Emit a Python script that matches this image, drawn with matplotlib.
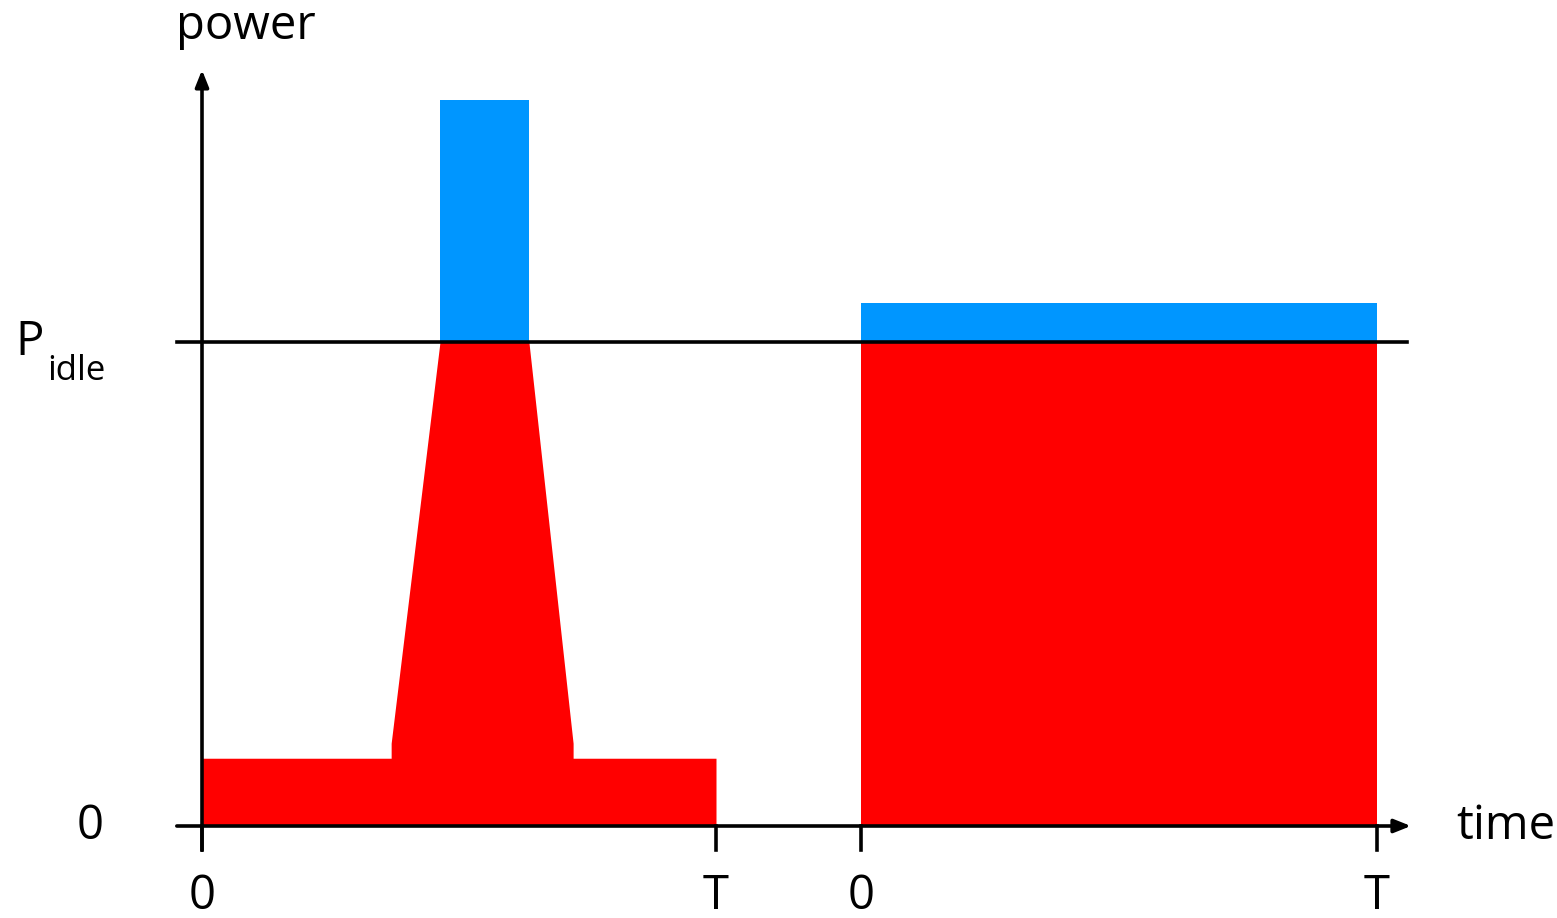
import matplotlib
matplotlib.use('Agg')
from matplotlib import pyplot as plt

# time in units of T, power in units of P_idle
offset = 1.282  # start of the second period

# left: idle baseline with a short burst
burst_t = [0.0, 0.368, 0.368, 0.463, 0.636, 0.722, 0.722, 1.0]
burst_p = [0.14, 0.14, 0.171, 1.0, 1.0, 0.171, 0.14, 0.14]
burst_extra = [0.463, 0.636]
burst_top = 1.5

# right: constant load over the whole period
steady_t = [0.0, 1.004]
steady_p = [1.0, 1.0]
steady_top = 1.08

tick_pos = [0.0, 1.0, offset, offset + 1.004]
tick_labels = ['0', 'T', '0', 'T']

red = '#ff0000'
blue = '#0096ff'
plt.rcParams['font.family'] = ['Open Sans', 'DejaVu Sans']

fig = plt.figure(figsize=(15.57, 9.18), dpi=100)
ax = fig.add_axes([0, 0, 1, 1])
ax.set_xlim(-202 / 514, (1557 - 202) / 514)
ax.set_ylim(-(918 - 826) / 484, 826 / 484)
ax.axis('off')

# the burst
ax.fill_between(burst_t, 0, burst_p, color=red, lw=0)
ax.fill_between(burst_extra, 1.0, burst_top, color=blue, lw=0)

# the steady load
st = [t + offset for t in steady_t]
ax.fill_between(st, 0, steady_p, color=red, lw=0)
ax.fill_between(st, 1.0, steady_top, color=blue, lw=0)

# axes lines
x0, x1 = -0.049, 2.352
lw = 2.6
ax.plot([x0, 2.344], [1.0, 1.0], color='black', lw=lw)
ax.annotate('', xy=(x1, 0), xytext=(x0, 0),
            arrowprops=dict(arrowstyle='-|>,head_length=1.0,head_width=0.4',
                            color='black', lw=lw, shrinkA=0, shrinkB=0))
ax.annotate('', xy=(0, 1.562), xytext=(0, -0.05),
            arrowprops=dict(arrowstyle='-|>,head_length=1.0,head_width=0.4',
                            color='black', lw=lw, shrinkA=0, shrinkB=0))

# ticks
for t, lab in zip(tick_pos, tick_labels):
    ax.plot([t, t], [0, -0.05], color='black', lw=lw)
    ax.text(t, -0.145, lab, ha='center', va='center', fontsize=34)

ax.text(-0.218, 0.0, '0', ha='center', va='center', fontsize=34)
ax.text(-0.335, 1.0, 'P', ha='center', va='center', fontsize=34)
ax.text(-0.302, 0.94, 'idle', ha='left', va='center', fontsize=25)
ax.text(-0.05, 1.652, 'power', ha='left', va='center', fontsize=34)
ax.text(2.44, 0.0, 'time', ha='left', va='center', fontsize=34)

plt.savefig('out.png', dpi=100)
